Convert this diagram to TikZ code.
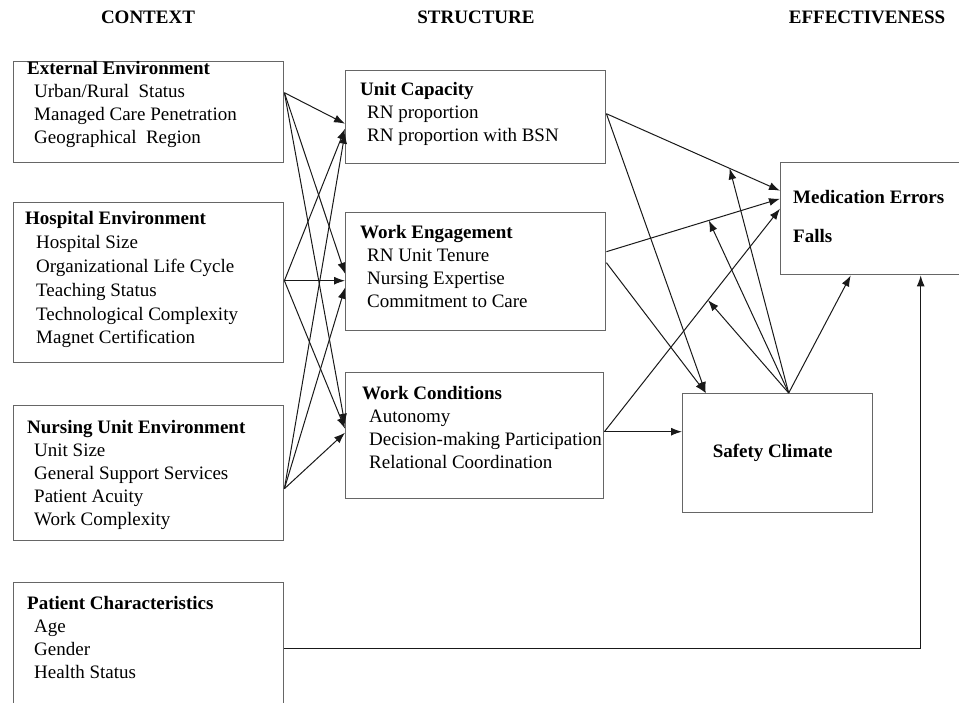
\documentclass[tikz,border=0pt]{standalone}
\usepackage{fontspec}
\setmainfont{Liberation Serif}
\usetikzlibrary{arrows.meta,positioning}

\tikzset{
  box/.style={draw=black!60, line width=1.4pt, anchor=north west, inner sep=0pt},
  txt/.style={anchor=north west, align=left, inner sep=0pt, font=\fontsize{19}{23}\selectfont},
  hdr/.style={font=\fontsize{19}{23}\selectfont\bfseries},
  arr/.style={-{Latex[length=11pt,width=8pt]}, line width=1pt, black!90}
}
\newcommand\ind{\hspace*{7pt}}

\begin{document}
\begin{tikzpicture}[x=1pt,y=-1pt]
  \useasboundingbox (0,0) rectangle (959,702);

  % column titles
  \node[hdr] (context) at (148,17) {CONTEXT};
  \node[hdr] (structure) at (476,17) {STRUCTURE};
  \node[hdr] (effect) at (867,17) {EFFECTIVENESS};

  % context
  \node[box, minimum width=270, minimum height=101] (ext) at (13,61) {};
  \node[box, minimum width=270, minimum height=160] (hosp) at (13,202) {};
  \node[box, minimum width=270, minimum height=135] (nurs) at (13,405) {};
  \node[box, minimum width=270, minimum height=132] (pat) at (13,582) {};

  \node[txt] (exttxt) at ([shift={(14,0.5)}]ext.north west)
    {\textbf{External Environment}\\ \ind Urban/Rural\ \ Status\\ \ind Managed Care Penetration\\ \ind Geographical\ \ Region};
  \node[txt, font=\fontsize{19}{23.8}\selectfont] (hosptxt) at ([shift={(12,9.5)}]hosp.north west)
    {\textbf{Hospital Environment}\\ \hspace*{11pt}Hospital Size\\ \hspace*{11pt}Organizational Life Cycle\\ \hspace*{11pt}Teaching Status\\ \hspace*{11pt}Technological Complexity\\ \hspace*{11pt}Magnet Certification};
  \node[txt] (nurstxt) at ([shift={(14,15.5)}]nurs.north west)
    {\textbf{Nursing Unit Environment}\\ \ind Unit Size\\ \ind General Support Services\\ \ind Patient Acuity\\ \ind Work Complexity};
  \node[txt] (pattxt) at ([shift={(14,14.5)}]pat.north west)
    {\textbf{Patient Characteristics}\\ \ind Age\\ \ind Gender\\ \ind Health Status};

  % structure
  \node[box, minimum width=260, minimum height=93] (cap) at (345,70) {};
  \node[box, minimum width=260, minimum height=118] (eng) at (345,212) {};
  \node[box, minimum width=258, minimum height=126] (cond) at (345,372) {};

  \node[txt] (captxt) at ([shift={(15,12.5)}]cap.north west)
    {\textbf{Unit Capacity}\\ \ind RN proportion\\ \ind RN proportion with BSN};
  \node[txt] (engtxt) at ([shift={(15,13.5)}]eng.north west)
    {\textbf{Work Engagement}\\ \ind RN Unit Tenure\\ \ind Nursing Expertise\\ \ind Commitment to Care};
  \node[txt] (condtxt) at ([shift={(17,14.5)}]cond.north west)
    {\textbf{Work Conditions}\\ \ind Autonomy\\ \ind Decision-making Participation\\ \ind Relational Coordination};

  % effectiveness
  \node[box, minimum width=200, minimum height=112] (med) at (780,162) {};
  \node[box, minimum width=190, minimum height=119] (safe) at (682,393) {};
  \node[txt, font=\fontsize{19}{23}\selectfont\bfseries] (medtxt) at ([shift={(13,28.5)}]med.north west)
    {Medication Errors\\[16pt] Falls};
  \node[hdr] (safetxt) at ([xshift=-5pt]safe.center) {Safety Climate};

  \coordinate (extout) at ([yshift=19.5pt]ext.east);
  \coordinate (hospout) at ([yshift=2pt]hosp.east);
  \coordinate (nursout) at ([yshift=-15.5pt]nurs.east);
  \coordinate (capout) at ([yshift=3.5pt]cap.east);
  \coordinate (condout) at ([yshift=4pt]cond.east);
  \coordinate (safeout) at ([xshift=11pt]safe.north);

  \draw[arr] (extout) -- ([yshift=-6.5pt]cap.west);
  \draw[arr] (extout) -- ([yshift=-2pt]eng.west);
  \draw[arr] (extout) -- ([yshift=11pt]cond.west);
  \draw[arr] (hospout) -- ([yshift=-11.5pt]cap.west);
  \draw[arr] (hospout) -- ([yshift=-9pt]eng.west);
  \draw[arr] (hospout) -- ([yshift=7pt]cond.west);
  \draw[arr] (nursout) -- ([yshift=-15.5pt]cap.west);
  \draw[arr] (nursout) -- ([yshift=-16pt]eng.west);
  \draw[arr] (nursout) -- ([yshift=3pt]cond.west);

  \draw[arr] (capout) -- coordinate[pos=0.71] (capmod) ([yshift=28pt]med.west);
  \draw[arr] ([yshift=20pt]eng.east) -- coordinate[pos=0.59] (engmod) ([yshift=20pt]med.west);
  \draw[arr] (condout) -- coordinate[pos=0.59] (condmod) ([yshift=10pt]med.west);
  \draw[arr] (capout) -- ([xshift=-72pt]safe.north);
  \draw[arr] ([yshift=9pt]eng.east) -- ([xshift=-72pt]safe.north);
  \draw[arr] (condout) -- (condout -| safe.west);

  \draw[arr] (safeout) -- (capmod);
  \draw[arr] (safeout) -- (engmod);
  \draw[arr] (safeout) -- (condmod);
  \draw[arr] (safeout) -- ([xshift=-30pt]med.south);

  \draw[arr] (pat.east) -| ([xshift=40pt]med.south);
\end{tikzpicture}
\end{document}
